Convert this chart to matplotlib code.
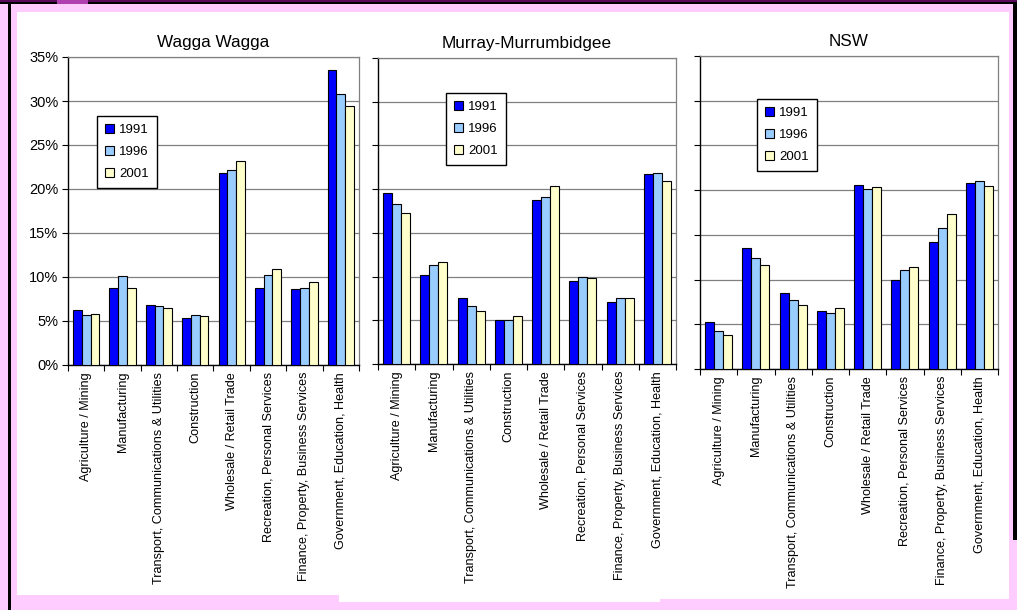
import numpy as np
import matplotlib
matplotlib.use("Agg")
import matplotlib.pyplot as plt
from matplotlib.patches import Rectangle
from matplotlib.ticker import FuncFormatter, FixedLocator

plt.rcParams['font.family'] = ['Liberation Sans', 'DejaVu Sans']

# categories
industries = ["Agriculture / Mining", "Manufacturing",
              "Transport, Communications & Utilities", "Construction",
              "Wholesale / Retail Trade", "Recreation, Personal Services",
              "Finance, Property, Business Services",
              "Government, Education, Health"]
years = ["1991", "1996", "2001"]

# share of employment (%) per year
wagga_1991 = [6.3, 8.8, 6.8, 5.3, 21.8, 8.8, 8.6, 33.5]
wagga_1996 = [5.7, 10.1, 6.7, 5.7, 22.2, 10.2, 8.7, 30.8]
wagga_2001 = [5.8, 8.8, 6.5, 5.6, 23.2, 10.9, 9.4, 29.4]

murray_1991 = [19.6, 10.2, 7.6, 5.0, 18.8, 9.5, 7.1, 21.7]
murray_1996 = [18.3, 11.3, 6.6, 5.0, 19.1, 9.9, 7.5, 21.8]
murray_2001 = [17.3, 11.7, 6.1, 5.5, 20.4, 9.8, 7.6, 20.9]

nsw_1991 = [5.2, 13.5, 8.5, 6.5, 20.6, 9.9, 14.2, 20.8]
nsw_1996 = [4.3, 12.4, 7.7, 6.3, 20.1, 11.1, 15.8, 21.0]
nsw_2001 = [3.8, 11.6, 7.2, 6.8, 20.3, 11.4, 17.3, 20.5]

titles = ["Wagga Wagga", "Murray-Murrumbidgee", "NSW"]
colors = ["#0000FF", "#99CCFF", "#FFFFCC"]

W, H = 1017, 610
fig = plt.figure(figsize=(W / 100, H / 100), dpi=100)
fig.patch.set_facecolor("#FFCCFF")


def rect(l, r, t, b):
    return [l / W, 1 - b / H, (r - l) / W, (b - t) / H]


def frame(x0, y0, x1, y1, color):
    fig.add_artist(Rectangle((x0 / W, 1 - y1 / H), (x1 - x0) / W, (y1 - y0) / H,
                             transform=fig.transFigure, facecolor=color,
                             edgecolor="none", zorder=0))


# page decoration
frame(17, 12, 340, 595, "white")
frame(339, 12, 660, 602, "white")
frame(660, 12, 1009, 599, "white")
frame(0, 0, W, 2, "#5A0A5A")
frame(0, 2, W, 4, "black")
frame(57, 0, 88, 4, "#B040B0")
frame(8, 2, 11, H, "black")
frame(1013, 2, W, 540, "black")

panels = [
    (titles[0], [wagga_1991, wagga_1996, wagga_2001], (68, 359, 57, 365), (97, 116)),
    (titles[1], [murray_1991, murray_1996, murray_2001], (378, 676, 58, 364), (446, 93)),
    (titles[2], [nsw_1991, nsw_1996, nsw_2001], (700, 998, 56, 369), (757, 99)),
]

x = np.arange(len(industries))
bw = 0.24

for i, (title, series, box, leg) in enumerate(panels):
    ax = fig.add_axes(rect(*box))
    ax.set_facecolor("white")
    for k, vals in enumerate(series):
        ax.bar(x + (k - 1) * bw, vals, bw, color=colors[k], edgecolor="black",
               linewidth=0.8, label=years[k], zorder=3)
    ax.set_xlim(-0.5, len(industries) - 0.5)
    ax.set_ylim(0, 35)
    ax.set_yticks(np.arange(0, 36, 5))
    ax.yaxis.grid(True, color="#808080", linewidth=0.9, zorder=0)
    ax.yaxis.set_major_formatter(FuncFormatter(lambda v, p: f"{v:.0f}%"))
    if i > 0:
        ax.tick_params(axis="y", labelleft=False)
    ax.tick_params(axis="y", direction="out", length=4, width=0.8, labelsize=10.5, pad=3)
    ax.set_xticks(x)
    ax.set_xticklabels(industries, rotation=90, fontsize=9.1)
    ax.tick_params(axis="x", length=0, pad=5)
    ax.xaxis.set_minor_locator(FixedLocator(np.arange(-0.5, len(industries), 1)))
    ax.tick_params(axis="x", which="minor", direction="out", length=4, width=0.8)
    for s in ["top", "right"]:
        ax.spines[s].set_color("#808080")
        ax.spines[s].set_linewidth(0.9)
    for s in ["left", "bottom"]:
        ax.spines[s].set_color("black")
        ax.spines[s].set_linewidth(1.0)
    cx = (box[0] + box[1]) / 2
    fig.text(cx / W, 1 - (box[2] - 7) / H, title, ha="center", va="bottom", fontsize=12.3)
    lg = ax.legend(loc="upper left", bbox_to_anchor=(leg[0] / W, 1 - leg[1] / H),
                   bbox_transform=fig.transFigure, fontsize=9.5, frameon=True,
                   fancybox=False, edgecolor="black", framealpha=1,
                   handlelength=0.7, handleheight=0.7, handletextpad=0.4,
                   labelspacing=0.75, borderpad=0.6, borderaxespad=0)
    lg.get_frame().set_linewidth(1.0)
    lg.set_zorder(5)

fig.savefig("out.png", dpi=100, facecolor=fig.get_facecolor())
